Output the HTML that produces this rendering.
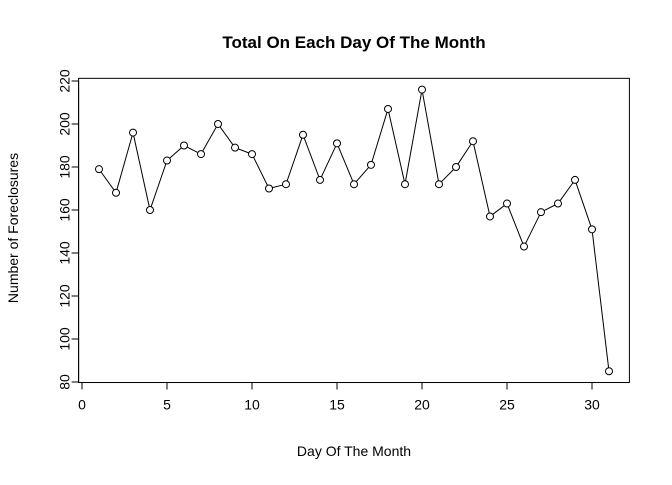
<!DOCTYPE html>
<html><head><meta charset="utf-8"><style>
body{margin:0;background:#fff}
text{font-family:"Liberation Sans",Arial,sans-serif;fill:#000}
</style></head><body>
<svg id="chart" width="672" height="480" xmlns="http://www.w3.org/2000/svg">
<text x="354" y="48" text-anchor="middle" font-size="17" font-weight="bold">Total On Each Day Of The Month</text>
<text x="354" y="456" text-anchor="middle" font-size="14">Day Of The Month</text>
<text transform="translate(18,228) rotate(-90)" text-anchor="middle" font-size="14">Number of Foreclosures</text>
<g id="g"></g>
</svg>
<script>
const days=[1,2,3,4,5,6,7,8,9,10,11,12,13,14,15,16,17,18,19,20,21,22,23,24,25,26,27,28,29,30,31];
const counts=[179,168,196,160,183,190,186,200,189,186,170,172,195,174,191,172,181,207,172,216,172,180,192,157,163,143,159,163,174,151,85];
const xTicks=[0,5,10,15,20,25,30];
const yTicks=[80,100,120,140,160,180,200,220];
const sx=v=>82+v*17, sy=v=>81+(220-v)*2.15;
const g=document.getElementById('g');const NS='http://www.w3.org/2000/svg';
function mk(t,a){const e=document.createElementNS(NS,t);for(const k in a)e.setAttribute(k,a[k]);g.appendChild(e);return e;}
const x0=sx(-0.2),x1=sx(32.2),y0=sy(221.24),y1=sy(79.76);
const box=mk('rect',{x:x0,y:y0,width:x1-x0,height:y1-y0,fill:'none',stroke:'#000'});


const xa=mk('line',{x1:sx(xTicks[0]),x2:sx(xTicks[xTicks.length-1]),y1:y1,y2:y1,stroke:'#000'});


xTicks.forEach(t=>{const l=mk('line',{x1:sx(t),x2:sx(t),y1:y1,y2:y1+7,stroke:'#000'});


const tx=mk('text',{x:sx(t),y:y1+27,'text-anchor':'middle','font-size':14});tx.textContent=t;

});
const ya=mk('line',{x1:x0,x2:x0,y1:sy(yTicks[0]),y2:sy(yTicks[yTicks.length-1]),stroke:'#000'});


yTicks.forEach(t=>{const l=mk('line',{x1:x0-7,x2:x0,y1:sy(t),y2:sy(t),stroke:'#000'});


const tx=mk('text',{transform:`translate(${x0-9},${sy(t)}) rotate(-90)`,'text-anchor':'middle','font-size':14});tx.textContent=t;

});
for(let i=0;i<days.length-1;i++){const ax=sx(days[i]),ay=sy(counts[i]),bx=sx(days[i+1]),by=sy(counts[i+1]);
const d=Math.hypot(bx-ax,by-ay),r=3.5;if(d<=2*r)continue;const ux=(bx-ax)/d,uy=(by-ay)/d;
const l=mk('line',{x1:ax+ux*r,y1:ay+uy*r,x2:bx-ux*r,y2:by-uy*r,stroke:'#000'});

}
days.forEach((d,i)=>{const c=mk('circle',{cx:sx(d),cy:sy(counts[i]),r:3.5,fill:'none',stroke:'#000'});

});
</script>
</body></html>
